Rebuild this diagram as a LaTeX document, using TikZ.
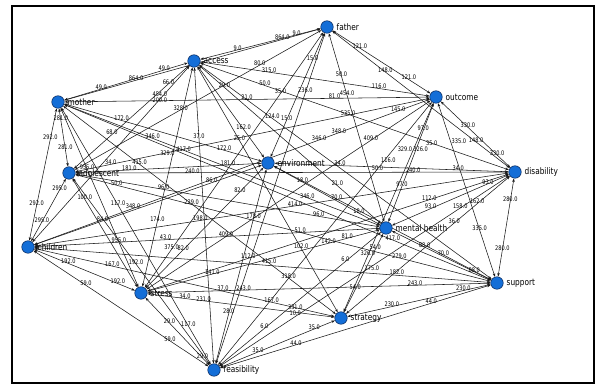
\documentclass[tikz,border=0pt]{standalone}
\usepackage{fontspec}
\setmainfont{DejaVu Sans}
\newfontfamily\nodefont[FakeStretch=0.82]{DejaVu Sans}
\newfontfamily\lblfont[FakeStretch=0.8]{DejaVu Sans}
\usetikzlibrary{arrows.meta,backgrounds}
\definecolor{vfill}{RGB}{20,110,215}
\definecolor{vline}{RGB}{10,40,90}
\tikzset{
 vert/.style={circle, draw=vline, line width=0.5pt, fill=vfill, minimum size=12.5pt, inner sep=0pt},
 vlabel/.style={font=\nodefont\fontsize{9}{10}\selectfont, inner sep=0.5pt, text=black},
 edge/.style={draw=black!90, line width=0.55pt, {Stealth[length=3.6pt,width=2.6pt]}-{Stealth[length=3.6pt,width=2.6pt]}},
 lbl/.style={font=\lblfont\fontsize{6.3}{6.3}\selectfont, inner sep=0.3pt, text=black, yshift=2pt},
 frame/.style={draw=black, line width=2.5pt},
}
\begin{document}
\begin{tikzpicture}[x=1pt,y=-1pt,label distance=2.5pt]
\useasboundingbox (0,0) rectangle (598,385);
\node[vert,label={[vlabel]right:father}] (F) at (327,27) {};
\node[vert,label={[vlabel]right:access}] (A) at (194,61) {};
\node[vert,label={[vlabel]right:mother}] (M) at (58,102) {};
\node[vert,label={[vlabel]right:outcome}] (O) at (436,97) {};
\node[vert,label={[vlabel]right:environment}] (E) at (268,163) {};
\node[vert,label={[vlabel]right:adolescent}] (Ad) at (69,173) {};
\node[vert,label={[vlabel]right:disability}] (D) at (515,172) {};
\node[vert,label={[vlabel]right:mental health}] (MH) at (386,228) {};
\node[vert,label={[vlabel]right:children}] (C) at (28,247) {};
\node[vert,label={[vlabel]right:support}] (Su) at (497,283) {};
\node[vert,label={[vlabel]right:stress}] (S) at (141,293) {};
\node[vert,label={[vlabel]right:strategy}] (St) at (341,318) {};
\node[vert,label={[vlabel]right:feasibility}] (Fe) at (214,370) {};
\begin{scope}[on background layer]
\fill[white] (0,0) rectangle (598,385);
\draw[frame] (12,6) rectangle (594,383);
\draw[edge] (M) -- node[lbl,pos=0.3]{49.0} node[lbl,pos=0.81]{49.0} (A);
\draw[edge] (M) -- node[lbl,pos=0.28]{864.0} node[lbl,pos=0.85]{864.0} (F);
\draw[edge] (A) -- node[lbl,pos=0.31]{9.0} node[lbl,pos=0.8]{9.0} (F);
\draw[edge] (F) -- node[lbl,pos=0.28]{121.0} node[lbl,pos=0.78]{121.0} (O);
\draw[edge] (F) -- node[lbl,pos=0.3]{148.0} node[lbl,pos=0.81]{148.0} (D);
\draw[edge] (O) -- node[lbl,pos=0.39]{330.0} node[lbl,pos=0.81]{330.0} (D);
\draw[edge] (D) -- node[lbl,pos=0.23]{280.0} node[lbl,pos=0.73]{280.0} (Su);
\draw[edge] (St) -- node[lbl,pos=0.31]{230.0} node[lbl,pos=0.81]{230.0} (Su);
\draw[edge] (Fe) -- node[lbl,pos=0.28]{44.0} node[lbl,pos=0.78]{44.0} (Su);
\draw[edge] (Fe) -- node[lbl,pos=0.33]{35.0} node[lbl,pos=0.82]{35.0} (St);
\draw[edge] (S) -- node[lbl,pos=0.375]{29.0} node[lbl,pos=0.89]{29.0} (Fe);
\draw[edge] (C) -- node[lbl,pos=0.3]{59.0} node[lbl,pos=0.78]{59.0} (Fe);
\draw[edge] (C) -- node[lbl,pos=0.34]{192.0} node[lbl,pos=0.83]{192.0} (S);
\draw[edge] (Ad) -- node[lbl,pos=0.18]{295.0} node[lbl,pos=0.69]{295.0} (C);
\draw[edge] (M) -- node[lbl,pos=0.23]{292.0} node[lbl,pos=0.73]{292.0} (C);
\draw[edge] (M) -- node[lbl,pos=0.21]{281.0} node[lbl,pos=0.7]{281.0} (Ad);
\draw[edge] (M) -- node[lbl,pos=0.34]{955.0} node[lbl,pos=0.75]{955.0} (S);
\draw[edge] (M) -- node[lbl,pos=0.28]{346.0} node[lbl,pos=0.77]{346.0} (MH);
\draw[edge] (C) -- node[lbl,pos=0.25]{348.0} node[lbl,pos=0.72]{346.0} node[lbl,pos=0.77]{348.0} node[lbl,pos=0.92]{145.0} (O);
\draw[edge] (C) -- node[lbl,pos=0.3]{84.0} node[lbl,pos=0.78]{86.0} (E);
\draw[edge] (M) -- node[lbl,pos=0.28]{415.0} node[lbl,pos=0.755]{415.0} (St);
\draw[edge] (M) -- node[lbl,pos=0.29]{172.0} node[lbl,pos=0.81]{172.0} (E);
\draw[edge] (M) -- node[lbl,pos=0.5]{21.0} node[lbl,pos=0.74]{81.0} (O);
\draw[edge] (C) -- node[lbl,pos=0.81,anchor=south]{454.0} node[lbl,pos=0.81,anchor=north]{200.0} (A);
\draw[edge] (Ad) -- node[lbl,pos=0.43]{328.0} node[lbl,pos=0.75]{80.0} (F);
\draw[edge] (A) -- node[lbl,pos=0.3]{315.0} node[lbl,pos=0.78]{116.0} (O);
\draw[edge] (Ad) -- node[lbl,pos=0.33]{68.0} node[lbl,pos=0.82]{66.0} (A);
\draw[edge] (A) -- node[lbl,pos=0.14]{29.0} node[lbl,pos=0.76]{21.0} (MH);
\draw[edge] (A) -- node[lbl,pos=0.25]{124.0} (Su);
\draw[edge] (A) -- node[lbl,pos=0.69]{162.0} (E);
\draw[edge] (A) -- node[lbl,pos=0.24]{37.0} (Fe);
\draw[edge] (A) -- node[lbl,pos=0.3]{25.0} node[lbl,pos=0.74]{102.0} (St);
\draw[edge] (A) -- node[lbl,pos=0.21]{50.0} node[lbl,pos=0.77,anchor=east]{35.0} (D);
\draw[edge] (A) -- node[lbl,pos=0.7]{174.0} (S);
\draw[edge] (F) -- node[lbl,pos=0.24]{35.0} node[lbl,pos=0.85]{375.0} (S);
\draw[edge] (F) -- node[lbl,pos=0.18]{236.0} (Fe);
\draw[edge] (F) -- node[lbl,pos=0.22]{15.0} node[lbl,pos=0.7]{15.0} (E);
\draw[edge] (F) -- node[lbl,pos=0.23]{50.0} node[lbl,pos=0.33]{454.0} (MH);
\draw[edge] (S) -- node[lbl,pos=0.22]{37.0} node[lbl,pos=0.28]{243.0} node[lbl,pos=0.78]{243.0} (Su);
\draw[edge] (S) -- node[lbl,pos=0.2]{34.0} node[lbl,pos=0.3]{231.0} node[lbl,pos=0.79,anchor=south]{331.0} node[lbl,pos=0.79,anchor=north]{10.0} (St);
\draw[edge] (C) -- node[lbl,pos=0.26]{167.0} node[lbl,pos=0.79]{167.0} (St);
\draw[edge] (Fe) -- node[lbl,pos=0.28]{6.0} node[lbl,pos=0.78]{6.0} (MH);
\draw[edge] (St) -- node[lbl,pos=0.27]{326.0} node[lbl,pos=0.77,anchor=east]{329.0} node[lbl,pos=0.77,anchor=west]{326.0} (O);
\draw[edge] (St) -- node[lbl,pos=0.29]{54.0} node[lbl,pos=0.8]{54.0} (MH);
\draw[edge] (St) -- node[lbl,pos=0.31,anchor=north]{182.0} node[lbl,pos=0.66]{36.0} node[lbl,pos=0.8]{162.0} (D);
\draw[edge] (C) -- node[lbl,pos=0.74,anchor=south]{175.0} (Su);
\draw[edge] (E) -- node[lbl,pos=0.2]{82.0} node[lbl,pos=0.68]{82.0} (S);
\draw[edge] (S) -- node[lbl,pos=0.28]{141.0} node[lbl,pos=0.78]{142.0} node[lbl,pos=0.86]{81.0} (MH);
\draw[edge] (S) -- node[lbl,pos=0.28]{112.0} node[lbl,pos=0.78]{112.0} (D);
\draw[edge] (Fe) -- node[lbl,pos=0.33]{318.0} node[lbl,pos=0.76,anchor=south west]{116.0} (O);
\draw[edge] (S) -- node[lbl,pos=0.28]{409.0} node[lbl,pos=0.79]{409.0} (O);
\draw[edge] (C) -- node[lbl,pos=0.35]{198.0} node[lbl,pos=0.55]{414.0} (D);
\draw[edge] (MH) -- node[lbl,pos=0.3]{97.0} node[lbl,pos=0.77]{97.0} (O);
\draw[edge] (C) -- node[lbl,pos=0.38]{43.0} node[lbl,pos=0.77]{51.0} (MH);
\draw[edge] (Ad) -- node[lbl,pos=0.29]{96.0} node[lbl,pos=0.8]{96.0} (MH);
\draw[edge] (Ad) -- node[lbl,pos=0.29]{181.0} node[lbl,pos=0.82]{181.0} (E);
\draw[edge] (Ad) -- node[lbl,pos=0.27]{240.0} node[lbl,pos=0.78]{240.0} (D);
\draw[edge] (E) -- node[lbl,pos=0.28]{34.0} node[lbl,pos=0.44,anchor=north]{50.0} node[lbl,pos=0.785]{34.0} (D);
\draw[edge] (Ad) -- node[lbl,pos=0.1]{34.0} node[lbl,pos=0.26,anchor=north]{329.0} node[lbl,pos=0.77]{535.0} (O);
\draw[edge] (E) -- node[lbl,pos=0.27]{18.0} node[lbl,pos=0.8]{18.0} (MH);
\draw[edge] (E) -- node[lbl,pos=0.29]{70.0} node[lbl,pos=0.78]{70.0} (Su);
\draw[edge] (M) -- node[lbl,pos=0.28,anchor=south]{417.0} node[lbl,pos=0.77]{417.0} (Su);
\draw[edge] (MH) -- node[lbl,pos=0.33]{93.0} node[lbl,pos=0.82]{93.0} (D);
\draw[edge] (Fe) -- node[lbl,pos=0.83]{158.0} (D);
\draw[edge] (O) -- node[lbl,pos=0.23,anchor=west]{335.0} node[lbl,pos=0.73]{335.0} (Su);
\draw[edge] (MH) -- node[lbl,pos=0.33]{88.0} node[lbl,pos=0.83]{88.0} (Su);
\draw[edge] (Ad) -- node[lbl,pos=0.1]{50.0} node[lbl,pos=0.28]{229.0} node[lbl,pos=0.78]{279.0} (Su);
\draw[edge] (Ad) -- node[lbl,pos=0.19]{100.0} (S);
\draw[edge] (Ad) -- node[lbl,pos=0.46]{192.0} (Fe);
\draw[edge] (M) -- node[lbl,pos=0.38]{117.0} node[lbl,pos=0.85]{117.0} (Fe);
\draw[edge] (Fe) -- node[lbl,pos=0.26]{28.0} node[lbl,pos=0.75]{178.0} (E);
\end{scope}
\end{tikzpicture}
\end{document}
